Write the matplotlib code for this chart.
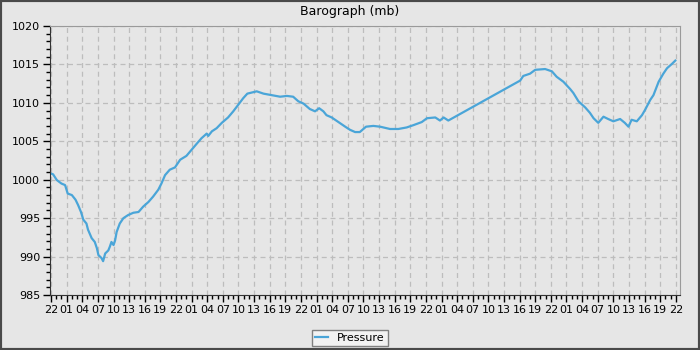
import numpy as np
import matplotlib
matplotlib.use("Agg")
import matplotlib.pyplot as plt
from matplotlib.patches import Rectangle
from matplotlib.ticker import MultipleLocator

# hours since 22:00 on the first day, pressure in mb
hours = [0, 0.4, 1.1, 2, 2.7, 3.2, 4, 4.7, 5.2, 5.75, 6.2, 6.8, 7.1, 7.8, 8.4, 8.8,
         9.1, 9.7, 10, 10.4, 11, 11.3, 11.6, 12, 12.3, 12.6, 13.2, 13.9, 14.8, 15.8,
         16.8, 17.7, 18.7, 19.6, 20.6, 21.2, 21.9, 22.8, 23.8, 24.8, 26, 27, 28, 28.9,
         29.9, 30.2, 30.9, 31.8, 32.8, 34, 35, 35.9, 36.9, 37.7, 39.5, 40.8, 42.4, 44,
         45.3, 46.5, 47.5, 48.5, 49.7, 50.7, 51.5, 52.3, 52.9, 53.9, 55.2, 56.5, 57.4,
         58.4, 59.3, 60.5, 61.9, 63.2, 65.1, 66.7, 68.3, 69.6, 71.2, 72.2, 73.8, 74.7,
         75.4, 76.3, 90.1, 90.7, 92, 93, 94.9, 96.2, 97.1, 98.4, 99.7, 100.3, 101.3,
         102.6, 103.5, 104.2, 105.1, 106.1, 107, 108, 109.3, 110.2, 110.9, 111.5, 112.5,
         113.5, 114.1, 115.1, 115.7, 116.7, 117.6, 118.3, 119.3, 119.9]
pressure = [1000.8, 1000.7, 999.96, 999.5, 999.3, 998.2, 998.0, 997.4, 996.7, 995.8,
            994.8, 994.3, 993.5, 992.4, 991.9, 991.1, 990.2, 989.8, 989.4, 990.4, 990.8,
            991.3, 991.9, 991.5, 992.1, 993.2, 994.3, 995.0, 995.4, 995.7, 995.8, 996.5,
            997.1, 997.8, 998.7, 999.5, 1000.6, 1001.3, 1001.6, 1002.6, 1003.1, 1003.9,
            1004.7, 1005.4, 1006.0, 1005.7, 1006.3, 1006.7, 1007.4, 1008.1, 1008.9,
            1009.7, 1010.6, 1011.2, 1011.5, 1011.2, 1011.0, 1010.8, 1010.9, 1010.8,
            1010.2, 1009.9, 1009.2, 1008.9, 1009.3, 1008.9, 1008.4, 1008.1, 1007.5,
            1006.9, 1006.5, 1006.2, 1006.2, 1006.9, 1007.0, 1006.9, 1006.6, 1006.6,
            1006.8, 1007.1, 1007.5, 1008.0, 1008.1, 1007.7, 1008.1, 1007.7, 1012.9,
            1013.5, 1013.8, 1014.3, 1014.4, 1014.1, 1013.4, 1012.75, 1011.8, 1011.3,
            1010.2, 1009.4, 1008.7, 1008.0, 1007.4, 1008.2, 1007.9, 1007.6, 1007.9,
            1007.4, 1006.9, 1007.8, 1007.6, 1008.4, 1009.1, 1010.4, 1011.0, 1012.75,
            1013.8, 1014.5, 1015.1, 1015.5]
tick_hours = list(range(0, 121, 3))
tick_labels = ["%02d" % ((22 + h) % 24) for h in tick_hours]

bg = "#e6e6e6"
fig = plt.figure(figsize=(7, 3.5), dpi=100, facecolor=bg)
fig.patches.append(Rectangle((0, 0), 1, 1, transform=fig.transFigure, fill=False,
                             edgecolor="#4a4a4a", linewidth=3, zorder=10))
ax = fig.add_axes([50/700, 1 - 295/350, 630/700, 269/350])
ax.set_facecolor(bg)

ax.plot(hours, pressure, color="#4aa5d8", linewidth=1.6, label="Pressure")

ax.set_xlim(-0.2, 120.8)
ax.set_ylim(985, 1020)
ax.set_xticks(tick_hours)
ax.set_xticklabels(tick_labels, fontsize=8)
ax.xaxis.set_minor_locator(MultipleLocator(1))
ax.yaxis.set_major_locator(MultipleLocator(5))
ax.yaxis.set_minor_locator(MultipleLocator(1))
ax.tick_params(axis="y", labelsize=8, length=5, width=1, pad=2)
ax.tick_params(axis="x", length=5, width=1, pad=2)
ax.tick_params(which="minor", length=3, width=1)
ax.grid(True, color="#bdbdbd", linestyle=(0, (4, 3)), linewidth=0.9)

for s in ["top", "right"]:
    ax.spines[s].set_color("#9a9a9a")
for s in ["left", "bottom"]:
    ax.spines[s].set_color("#333333")

fig.text(0.5, 1 - 12/350, "Barograph (mb)", ha="center", va="center", fontsize=9)

leg = fig.legend(loc="center", bbox_to_anchor=(350/700, 1 - 338/350), fontsize=8,
                 frameon=True, fancybox=False, handlelength=1.2, borderpad=0.3,
                 handletextpad=0.8)
leg.get_frame().set_facecolor("#f2f2f2")
leg.get_frame().set_edgecolor("#808080")
leg.get_frame().set_alpha(1)

fig.savefig("out.png", dpi=100, facecolor=bg)
